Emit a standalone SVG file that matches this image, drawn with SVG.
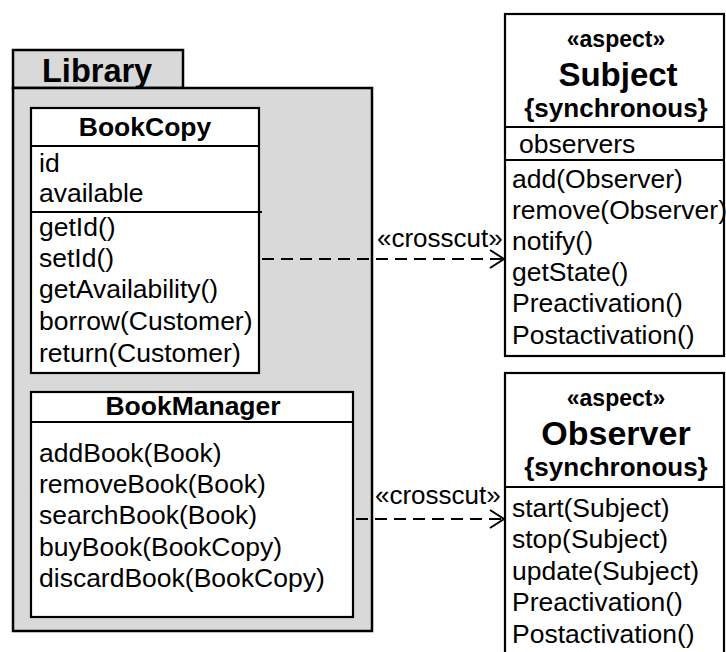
<svg xmlns="http://www.w3.org/2000/svg" width="726" height="652" viewBox="0 0 726 652">
<style>
  text { font-family: "Liberation Sans", Arial, sans-serif; fill: #000; }
  .t { font-size: 26.5px; }
  .x { font-size: 26px; }
  .b { font-weight: bold; }
  .c { text-anchor: middle; }
  .box { fill: #fff; stroke: #000; stroke-width: 2.2; }
  .pkg { fill: #d9d9d9; stroke: #000; stroke-width: 2.5; }
  .sep { stroke: #000; stroke-width: 2.2; }
  .dash { fill: none; stroke: #000; stroke-width: 2; stroke-dasharray: 12 7; }
  .head { fill: none; stroke: #000; stroke-width: 2; }
</style>
<rect width="726" height="652" fill="#fff"/>

<g id="Library">
  <rect class="pkg" x="13" y="50" width="170" height="38"/>
  <rect class="pkg" x="13" y="88" width="359" height="543"/>
  <text class="b" x="42" y="82" font-size="32.5">Library</text>
</g>

<g id="BookCopy">
  <rect class="box" x="31" y="108" width="228" height="265"/>
  <line class="sep" x1="31" y1="146" x2="259" y2="146"/>
  <line class="sep" x1="31" y1="212" x2="262" y2="212"/>
  <text class="t b c" x="145" y="136">BookCopy</text>
  <text class="t" x="39" y="172">id</text>
  <text class="t" x="39" y="202">available</text>
  <text class="t" x="39" y="236">getId()</text>
  <text class="t" x="39" y="267">setId()</text>
  <text class="t" x="39" y="298">getAvailability()</text>
  <text class="t" x="39" y="330">borrow(Customer)</text>
  <text class="t" x="39" y="362">return(Customer)</text>
</g>

<g id="BookManager">
  <rect class="box" x="31" y="392" width="322" height="225"/>
  <line class="sep" x1="31" y1="422" x2="353" y2="422"/>
  <text class="t b c" x="193" y="415">BookManager</text>
  <text class="t" x="39" y="462">addBook(Book)</text>
  <text class="t" x="39" y="493">removeBook(Book)</text>
  <text class="t" x="39" y="524">searchBook(Book)</text>
  <text class="t" x="39" y="556">buyBook(BookCopy)</text>
  <text class="t" x="39" y="587">discardBook(BookCopy)</text>
</g>

<g id="Subject">
  <rect class="box" x="505" y="14" width="219" height="342"/>
  <line class="sep" x1="505" y1="127" x2="724" y2="127"/>
  <line class="sep" x1="505" y1="160" x2="724" y2="160"/>
  <text class="b c" x="616" y="47" font-size="23">«aspect»</text>
  <text class="b c" x="618" y="86" font-size="33">Subject</text>
  <text class="b c" x="616" y="117" font-size="26">{synchronous}</text>
  <text class="t" x="519" y="153">observers</text>
  <text class="t" x="512" y="188">add(Observer)</text>
  <text class="t" x="512" y="219">remove(Observer)</text>
  <text class="t" x="512" y="250">notify()</text>
  <text class="t" x="512" y="281">getState()</text>
  <text class="t" x="512" y="312">Preactivation()</text>
  <text class="t" x="512" y="344">Postactivation()</text>
</g>

<g id="Observer">
  <rect class="box" x="505" y="373" width="219" height="300"/>
  <line class="sep" x1="505" y1="487" x2="724" y2="487"/>
  <text class="b c" x="616" y="406" font-size="23">«aspect»</text>
  <text class="b c" x="616" y="445" font-size="34">Observer</text>
  <text class="b c" x="616" y="476" font-size="26">{synchronous}</text>
  <text class="t" x="512" y="517">start(Subject)</text>
  <text class="t" x="512" y="548">stop(Subject)</text>
  <text class="t" x="512" y="580">update(Subject)</text>
  <text class="t" x="512" y="611">Preactivation()</text>
  <text class="t" x="512" y="643">Postactivation()</text>
</g>

<g id="connectors">
  <line class="dash" x1="262" y1="259" x2="504" y2="259"/>
  <polyline class="head" points="490,250 504,259 490,268"/>
  <text class="x" x="377" y="247">«crosscut»</text>
  <line class="dash" x1="356" y1="519" x2="504" y2="519"/>
  <polyline class="head" points="490,510 504,519 490,528"/>
  <text class="x" x="375" y="504">«crosscut»</text>
</g>
</svg>
